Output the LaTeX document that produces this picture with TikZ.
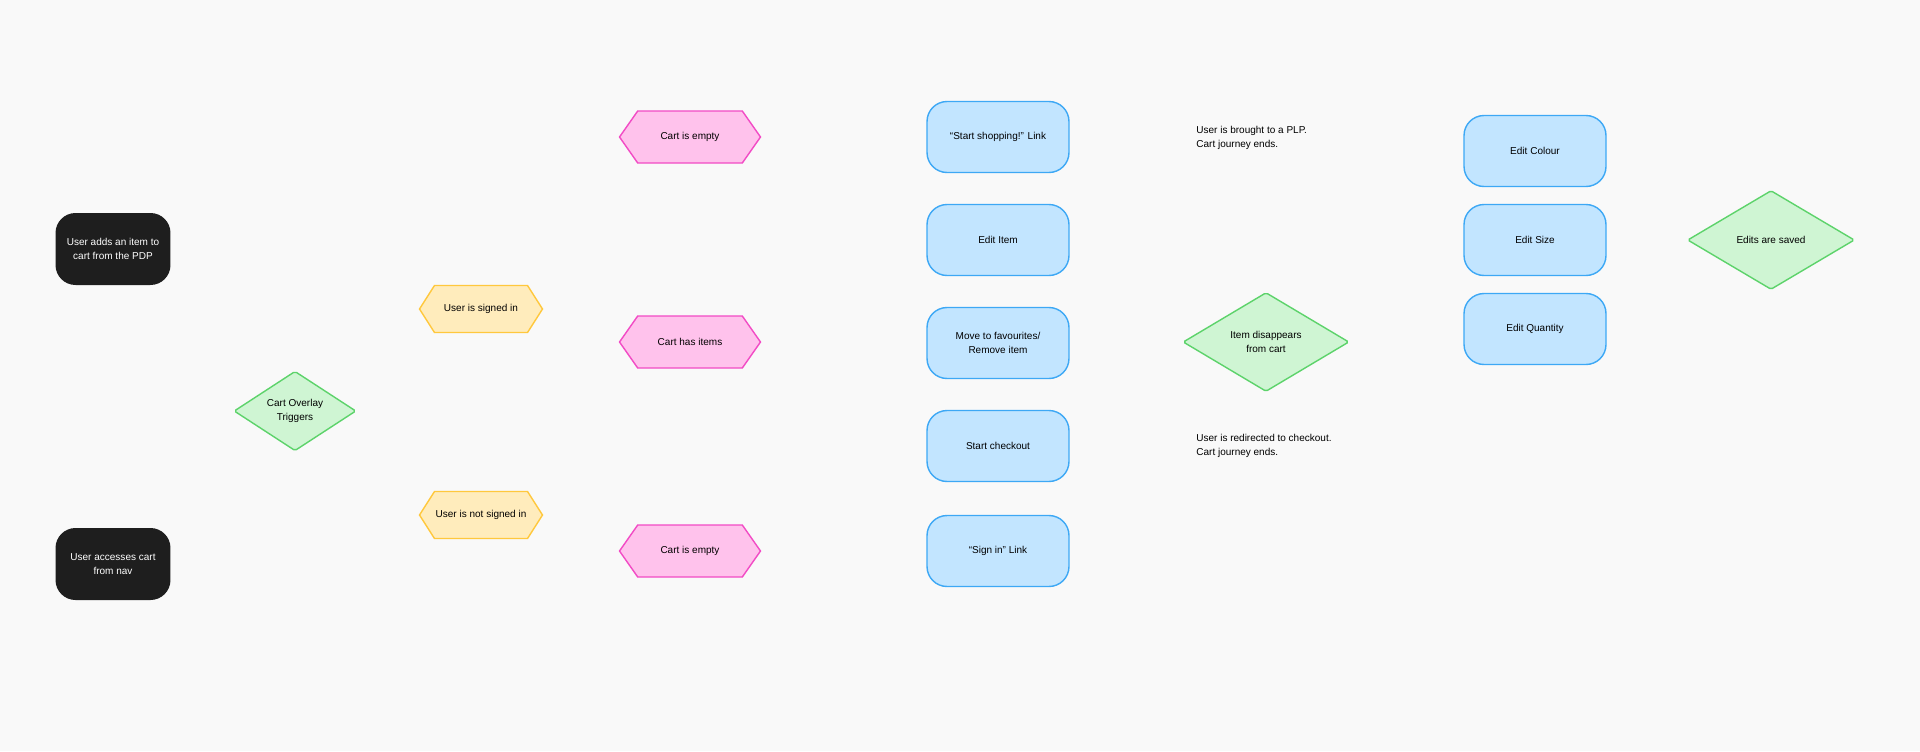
\documentclass[tikz,border=0pt]{standalone}
\usepackage{fontspec}
\setmainfont{Liberation Sans}
\usetikzlibrary{shapes.geometric,shapes.symbols,arrows.meta,backgrounds,calc}
\definecolor{bgc}{HTML}{F9F9F9}
\definecolor{blk}{HTML}{1E1E1E}
\definecolor{grnF}{HTML}{CFF5D3}\definecolor{grnL}{HTML}{5DD36B}
\definecolor{ylwF}{HTML}{FFECBC}\definecolor{ylwL}{HTML}{FFC83D}
\definecolor{pnkF}{HTML}{FFC2EC}\definecolor{pnkL}{HTML}{F24BC5}
\definecolor{bluF}{HTML}{C2E5FF}\definecolor{bluL}{HTML}{3DA8F5}
\tikzset{
	every node/.style={font=\fontsize{5.7}{8}\selectfont, align=center, inner sep=0pt},
	start/.style={fill=blk, text=white, rounded corners=0.4cm, minimum width=2.3cm, minimum height=1.44cm},
	action/.style={fill=bluF, draw=bluL, line width=0.8pt, rounded corners=0.4cm, minimum width=2.84cm, minimum height=1.42cm},
	dec/.style={diamond, fill=grnF, draw=grnL, line width=0.8pt, rounded corners=1pt},
	user/.style={signal, signal to=east and west, signal pointer angle=115, fill=ylwF, draw=ylwL, line width=0.8pt, minimum width=2.46cm, minimum height=0.94cm},
	cart/.style={signal, signal to=east and west, signal pointer angle=110, fill=pnkF, draw=pnkL, line width=0.8pt, minimum width=2.82cm, minimum height=1.04cm},
	note/.style={anchor=west, align=left},
	flow/.style={line width=0.8pt, rounded corners=4pt, -{Straight Barb[length=3pt,width=7pt]}},
	link/.style={line width=0.8pt, rounded corners=4pt},
}
\begin{document}
\begin{tikzpicture}[x=0.02cm, y=-0.02cm]
	\fill[bgc] (0,0) rectangle (1920,751);
	\useasboundingbox (0,0) rectangle (1920,751);
	
	%Entry points
	\node[start] (add) at (113,249) {User adds an item to\\cart from the PDP};
	\node[start] (nav) at (113,564) {User accesses cart\\from nav};
	\node[dec, minimum width=2.44cm, minimum height=1.3cm] (ovl) at (295,411) {Cart Overlay\\Triggers};
	
	%Sign in state
	\node[user] (si) at (481,309) {User is signed in};
	\node[user] (nsi) at (481,515) {User is not signed in};
	
	%Cart state
	\node[cart] (ce1) at (690,137) {Cart is empty};
	\node[cart] (has) at (690,342) {Cart has items};
	\node[cart] (ce2) at (690,551) {Cart is empty};
	
	%Actions
	\node[action] (shop) at (998,137) {``Start shopping!'' Link};
	\node[action] (edit) at (998,240) {Edit Item};
	\node[action] (move) at (998,343) {Move to favourites/\\Remove item};
	\node[action] (chk) at (998,446) {Start checkout};
	\node[action] (sgn) at (998,551) {``Sign in'' Link};
	\node[note] (plp) at (1196,138) {User is brought to a PLP.\\Cart journey ends.};
	\node[note] (out) at (1196,446) {User is redirected to checkout.\\Cart journey ends.};
	
	%Edits
	\node[dec, minimum width=3.32cm, minimum height=1.98cm] (dis) at (1266,342) {Item disappears\\from cart};
	\node[action] (col) at (1535,151) {Edit Colour};
	\node[action] (size) at (1535,240) {Edit Size};
	\node[action] (qty) at (1535,329) {Edit Quantity};
	\node[dec, minimum width=3.34cm, minimum height=1.98cm] (sav) at (1771,240) {Edits are saved};
	
	\begin{scope}[on background layer]
		\draw[flow, blk] (add.east) -- ++(32,0) |- (ovl.west);
		\draw[flow, blk] (nav.east) -- ++(32,0) |- (ovl.west);
		\draw[flow, grnL] (ovl.east) -- ++(32,0) |- (si.west);
		\draw[flow, grnL] (ovl.east) -- ++(32,0) |- (nsi.west);
		
		\draw[flow, ylwL] (si.east) -- ++(37,0) |- (ce1.west);
		\draw[flow, ylwL] (si.east) -- ++(37,0) |- (has.west);
		\draw[flow, ylwL] (nsi.east) -- ++(37,0) |- (has.west);
		\draw[flow, ylwL] (nsi.east) -- ++(37,0) |- (ce2.west);
		
		\draw[flow, pnkL] (ce1.east) -- (shop.west);
		\draw[flow, pnkL] (ce2.east) -- (sgn.west);
		\foreach \n in {edit, move, chk}
			\draw[flow, pnkL] (has.east) -- ++(84,0) |- (\n.west);
		
		\draw[flow, bluL] (shop.east) -- (plp.west);
		\draw[flow, bluL] (chk.east) -- (out.west);
		\draw[flow, bluL] (sgn.south) -- ++(0,12) -| (si.south);
		\draw[flow, bluL] (edit.east) -- (size.west);
		\draw[flow, bluL] (move.east) -- (dis.west);
		\draw[flow, bluL] (dis.north) |- (col.west);
		\draw[flow, bluL] (dis.12) -- (dis.12 -| qty.west);
		\foreach \n in {col, size, qty}
			\draw[flow, bluL] (\n.east) -- ++(42,0) |- (sav.west);
		
		\draw[link, grnL] (sav.south) |- ($(move.east)+(0,6)$);
		\draw[flow, grnL] (dis.south) -- ++(0,9) -| (chk.north);
		\draw[flow, grnL] (move.south) -- (chk.north);
	\end{scope}
\end{tikzpicture}
\end{document}
